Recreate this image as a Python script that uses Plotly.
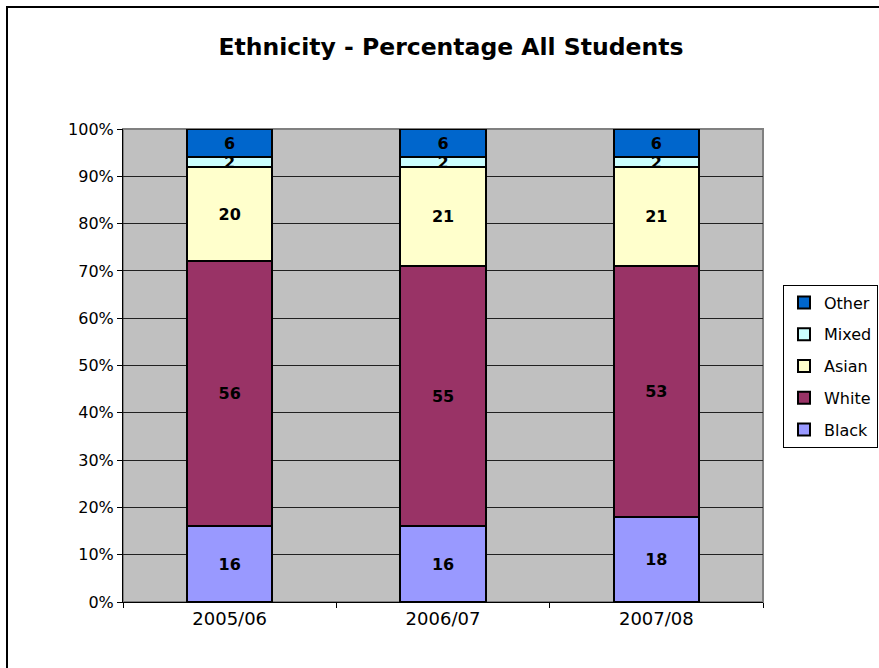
import plotly.graph_objects as go

years = ["2005/06", "2006/07", "2007/08"]
black = [16, 16, 18]
white = [56, 55, 53]
asian = [20, 21, 21]
mixed = [2, 2, 2]
other = [6, 6, 6]

series = [
    ("Black", black, "#9999FF"),
    ("White", white, "#993366"),
    ("Asian", asian, "#FFFFCC"),
    ("Mixed", mixed, "#CCFFFF"),
    ("Other", other, "#0066CC"),
]

FONT = "DejaVu Sans, Liberation Sans, Arial, sans-serif"

L, T, PW, PH = 123, 129, 640, 473
W, H = 879, 668

fig = go.Figure()
for i, (name, vals, color) in enumerate(series):
    fig.add_trace(go.Bar(
        x=years, y=vals, name=name, legendgroup=name,
        legendrank=1000 - i,
        marker=dict(color=color, line=dict(color="black", width=2)),
        text=[str(v) for v in vals], textposition="inside",
        insidetextanchor="middle", textangle=0,
        textfont=dict(family=FONT, size=16, color="black", weight="bold"),
        hoverinfo="skip",
    ))

fig.update_layout(
    barmode="stack",
    barnorm="percent",
    bargap=0.6,
    width=W, height=H,
    margin=dict(l=L, r=W - L - PW, t=T, b=H - T - PH),
    paper_bgcolor="white",
    plot_bgcolor="#C0C0C0",
    uniformtext=dict(minsize=16, mode="show"),
    font=dict(family=FONT, size=16, color="black"),
    title=dict(text="<b>Ethnicity - Percentage All Students</b>",
               x=(451 - L) / PW, xref="paper", xanchor="center",
               y=1 - 47 / H, yref="container", yanchor="middle",
               font=dict(family=FONT, size=23.5, color="black")),
    showlegend=True,
    legend=dict(traceorder="grouped",
                xref="container", x=878 / W, xanchor="right",
                yref="container", y=1 - 366 / H, yanchor="middle",
                bordercolor="black", borderwidth=1, bgcolor="white",
                font=dict(family=FONT, size=16), itemsizing="constant",
                itemwidth=30, tracegroupgap=8),
    xaxis=dict(showgrid=False, showline=True, linecolor="black", linewidth=1,
               ticks="outside", tickson="boundaries", ticklen=5, tickcolor="black",
               tickfont=dict(family=FONT, size=18)),
    yaxis=dict(range=[0, 100], dtick=10, ticksuffix="%", showgrid=True,
               gridcolor="#202020", gridwidth=1, showline=True, linecolor="black",
               linewidth=1, ticks="outside", ticklen=5, tickcolor="black",
               tickfont=dict(family=FONT, size=16), zeroline=False),
    shapes=[
        dict(type="rect", xref="paper", yref="paper", x0=0, x1=1, y0=0, y1=1,
             line=dict(color="#808080", width=2), layer="below"),
        dict(type="rect", xref="paper", yref="paper",
             x0=(7 - L) / PW, x1=(W + 20 - L) / PW,
             y0=-(H - T - PH + 20) / PH, y1=(T + PH - 7) / PH,
             line=dict(color="black", width=2), layer="above"),
    ],
)

fig.write_html(
    "out.html",
    config={"displayModeBar": False},
    post_script="document.body.style.margin='0';document.body.style.overflow='hidden';",
)
